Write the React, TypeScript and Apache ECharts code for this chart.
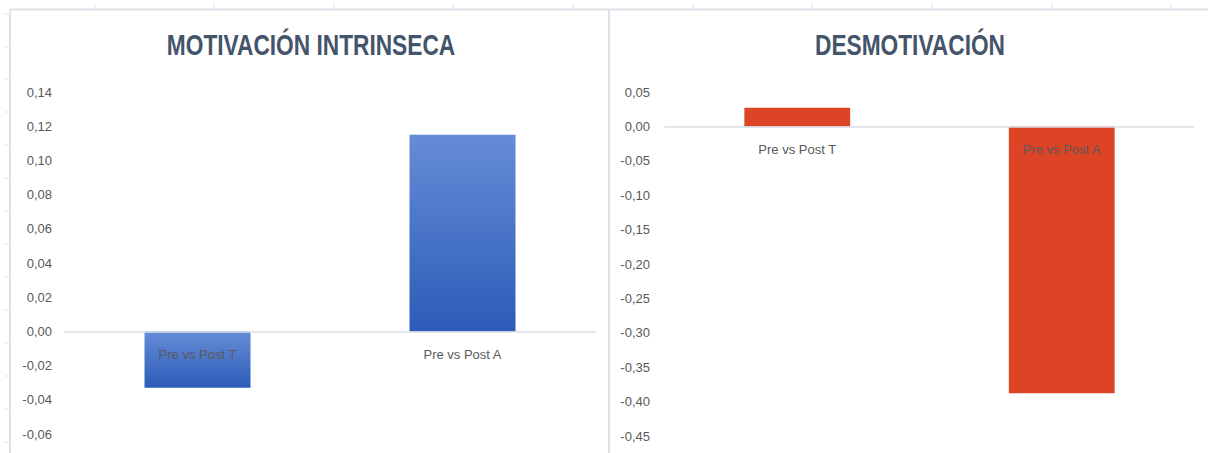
import React, { useEffect, useRef } from "react";
import * as echarts from "echarts";

const categories = ["Pre vs Post T", "Pre vs Post A"];
const motivacionValues = [-0.033, 0.115];
const desmotivacionValues = [0.027, -0.388];
const titleLeft = "MOTIVACIÓN INTRINSECA";
const titleRight = "DESMOTIVACIÓN";
const leftTicks = { min: -0.06, max: 0.14, interval: 0.02 };
const rightTicks = { min: -0.45, max: 0.05, interval: 0.05 };

const FONT = "'Liberation Sans', Arial, sans-serif";
const SHEET_LINE = "#dde2ea";

function fmt(v: number) {
  return v.toFixed(2).replace(".", ",").replace("-0,00", "0,00");
}

export default function App() {
  const ref = useRef<HTMLDivElement>(null);
  useEffect(() => {
    document.body.style.margin = "0";
    const chart = echarts.init(ref.current!, null, { renderer: "svg" });

    const graphics: any[] = [];
    graphics.push({ type: "line", shape: { x1: 10, y1: 9.5, x2: 1208, y2: 9.5 }, style: { stroke: SHEET_LINE, lineWidth: 2 }, silent: true });
    graphics.push({ type: "line", shape: { x1: 10, y1: 9.5, x2: 10, y2: 453 }, style: { stroke: SHEET_LINE, lineWidth: 2 }, silent: true });
    graphics.push({ type: "line", shape: { x1: 609, y1: 9.5, x2: 609, y2: 453 }, style: { stroke: SHEET_LINE, lineWidth: 2 }, silent: true });
    [95, 214, 334, 453, 573, 693, 812, 932, 1052, 1171].forEach((x) => {
      graphics.push({ type: "line", shape: { x1: x, y1: 4, x2: x, y2: 9 }, style: { stroke: SHEET_LINE, lineWidth: 1 }, silent: true });
    });
    [14, 47, 79, 112, 145, 178, 211, 244, 277, 310, 343, 376, 409, 442].forEach((y) => {
      graphics.push({ type: "line", shape: { x1: 5, y1: y, x2: 10, y2: y }, style: { stroke: SHEET_LINE, lineWidth: 1 }, silent: true });
    });
    const titleStyle = {
      fill: "#44546A",
      font: "bold 30px " + FONT,
      textAlign: "center",
      textVerticalAlign: "top",
    };
    graphics.push({ type: "text", x: 311, y: 30, scaleX: 0.757, style: { ...titleStyle, text: titleLeft } });
    graphics.push({ type: "text", x: 910, y: 30, scaleX: 0.757, style: { ...titleStyle, text: titleRight } });

    const blueGrad = new echarts.graphic.LinearGradient(0, 0, 0, 1, [
      { offset: 0, color: "#658cd6" },
      { offset: 1, color: "#2c5cb8" },
    ]);

    const axisLabelStyle = { color: "#595959", fontFamily: FONT, fontSize: 13 };

    const makeX = (gridIndex: number, margin: number) => ({
      type: "category",
      gridIndex,
      data: categories,
      axisLine: { onZero: true, lineStyle: { color: "#d9dee6", width: 1.5 } },
      axisTick: { show: false },
      axisLabel: { ...axisLabelStyle, margin },
      z: 10,
    });

    const build = (m0: number, m1: number) => ({
      animation: false,
      backgroundColor: "#ffffff",
      graphic: graphics,
      grid: [
        { left: 65, right: 613, top: 92, bottom: 19, outerBoundsMode: "none", containLabel: false },
        { left: 665, right: 14, top: 92, bottom: 17, outerBoundsMode: "none", containLabel: false },
      ],
      xAxis: [makeX(0, m0), makeX(1, m1)],
      yAxis: [
        {
          type: "value",
          gridIndex: 0,
          ...leftTicks,
          axisLine: { show: false },
          axisTick: { show: false },
          splitLine: { show: false },
          axisLabel: { ...axisLabelStyle, margin: 13, formatter: (v: number) => fmt(v) },
        },
        {
          type: "value",
          gridIndex: 1,
          ...rightTicks,
          axisLine: { show: false },
          axisTick: { show: false },
          splitLine: { show: false },
          axisLabel: { ...axisLabelStyle, margin: 15, formatter: (v: number) => fmt(v) },
        },
      ],
      series: [
        {
          type: "bar",
          xAxisIndex: 0,
          yAxisIndex: 0,
          data: motivacionValues,
          barWidth: "40%",
          itemStyle: { color: blueGrad },
        },
        {
          type: "bar",
          xAxisIndex: 1,
          yAxisIndex: 1,
          data: desmotivacionValues,
          barWidth: "40%",
          itemStyle: { color: "#dd4426" },
        },
      ],
    });

    const baseMargin = 17;
    chart.setOption(build(baseMargin, baseMargin));
    // category labels sit just below the zero line (Excel style)
    const z0 = chart.convertToPixel({ yAxisIndex: 0 } as any, 0) as number;
    const b0 = chart.convertToPixel({ yAxisIndex: 0 } as any, leftTicks.min) as number;
    const z1 = chart.convertToPixel({ yAxisIndex: 1 } as any, 0) as number;
    const b1 = chart.convertToPixel({ yAxisIndex: 1 } as any, rightTicks.min) as number;
    const svgTexts = Array.from(ref.current!.querySelectorAll("text")).filter((t) => t.textContent === categories[0]);
    let follows = false;
    if (svgTexts.length) {
      const r = svgTexts[0].getBoundingClientRect();
      follows = r.top < b0 - 30;
    }
    if (!follows) {
      chart.setOption({
        xAxis: [
          { axisLabel: { margin: baseMargin - (b0 - z0) } },
          { axisLabel: { margin: baseMargin - (b1 - z1) } },
        ],
      });
    }
    return () => chart.dispose();
  }, []);
  return <div ref={ref} style={{ width: 1208, height: 453 }} />;
}
